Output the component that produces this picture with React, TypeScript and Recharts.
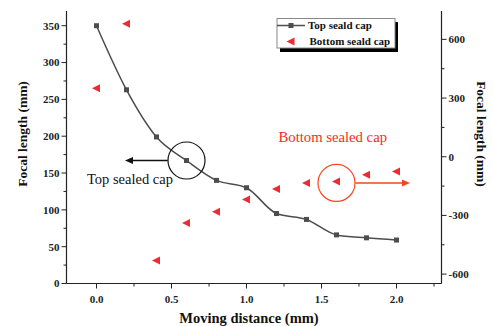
import React from "react";
import {
  ComposedChart,
  Line,
  Scatter,
  XAxis,
  YAxis,
  ReferenceDot,
  ReferenceLine,
  Customized
} from "recharts";

const distance = [0, 0.2, 0.4, 0.6, 0.8, 1.0, 1.2, 1.4, 1.6, 1.8, 2.0];
const topSealed = [350, 263, 199, 167, 140, 130, 95, 87, 66, 62, 59];
const bottomSealed = [350, 680, -531, -339, -281, -218, -165, -134, -126, -92, -75];

const xTicks = [0, 0.25, 0.5, 0.75, 1.0, 1.25, 1.5, 1.75, 2.0, 2.25];
const leftTicks = [0, 25, 50, 75, 100, 125, 150, 175, 200, 225, 250, 275, 300, 325, 350];
const rightTicks = [-600, -450, -300, -150, 0, 150, 300, 450, 600];

const data = distance.map((x, i) => ({ x, top: topSealed[i], bottom: bottomSealed[i] }));

const FONT = "'Liberation Serif', 'Times New Roman', serif";
const AXIS = "#222";

const tickText = {
  fontFamily: FONT,
  fontSize: 11,
  fontWeight: 700,
  fill: "#222"
};

function LeftTick({ x, y, payload }: any) {
  const major = payload.value % 50 === 0;
  return (
    <g>
      <line x1={x} x2={x - (major ? 5 : 3)} y1={y} y2={y} stroke={AXIS} strokeWidth={1} />
      {major && (
        <text x={x - 7} y={y} dy="0.35em" textAnchor="end" {...tickText}>
          {payload.value}
        </text>
      )}
    </g>
  );
}

function RightTick({ x, y, payload }: any) {
  const major = payload.value % 300 === 0;
  return (
    <g>
      <line x1={x} x2={x + (major ? 5 : 3)} y1={y} y2={y} stroke={AXIS} strokeWidth={1} />
      {major && (
        <text x={x + 7} y={y} dy="0.35em" textAnchor="start" {...tickText}>
          {payload.value}
        </text>
      )}
    </g>
  );
}

function BottomTick({ x, y, payload }: any) {
  const major = Math.abs((payload.value * 2) % 1) < 1e-6;
  return (
    <g>
      <line x1={x} x2={x} y1={y} y2={y + (major ? 5 : 3)} stroke={AXIS} strokeWidth={1} />
      {major && (
        <text x={x} y={y + 19} textAnchor="middle" {...tickText}>
          {payload.value.toFixed(1)}
        </text>
      )}
    </g>
  );
}

function SquareDot({ cx, cy, index }: any) {
  return <rect key={`sq${index}`} x={cx - 2.5} y={cy - 2.5} width={5} height={5} fill="#4d4d4d" />;
}

function LeftTriangle({ cx, cy }: any) {
  return (
    <polygon
      points={`${cx - 4.5},${cy} ${cx + 3.5},${cy - 4} ${cx + 3.5},${cy + 4}`}
      fill="#ee2a33"
    />
  );
}

function arrow(color: string) {
  return ({ x1, y1, x2, y2 }: any) => {
    const dir = x2 > x1 ? 1 : -1;
    return (
      <g>
        <line x1={x1} y1={y1} x2={x2 - dir * 6} y2={y2} stroke={color} strokeWidth={1.5} />
        <polygon
          points={`${x2},${y2} ${x2 - dir * 8},${y2 - 3.5} ${x2 - dir * 8},${y2 + 3.5}`}
          fill={color}
        />
      </g>
    );
  };
}

function Decorations() {
  const title = { fontFamily: FONT, fontSize: 13.5, fontWeight: 700, fill: "#111" };
  const legendText = { fontFamily: FONT, fontSize: 11, fontWeight: 700, fill: "#111" };
  return (
    <g>
      {/* legend */}
      <rect x={280} y={22} width={118} height={30} fill="#000" />
      <rect x={277} y={18.5} width={118} height={29.5} fill="#fff" stroke="#888" strokeWidth={1} />
      <line x1={277} x2={305} y1={25.5} y2={25.5} stroke="#4d4d4d" strokeWidth={1.5} />
      <rect x={288.5} y={23} width={5} height={5} fill="#4d4d4d" />
      <text x={308} y={25.5} dy="0.35em" {...legendText}>Top seald cap</text>
      <polygon points="286.5,41.5 294.5,37.5 294.5,45.5" fill="#ee2a33" />
      <text x={309.5} y={41.5} dy="0.35em" {...legendText}>Bottom seald cap</text>

      {/* annotations */}
      <text x={87} y={184} fontFamily={FONT} fontSize={14.5} fill="#111">Top sealed cap</text>
      <text x={278.5} y={142} fontFamily={FONT} fontSize={14.7} fill="#ff2626">Bottom sealed cap</text>

      {/* axis titles */}
      <text x={22} y={134} transform="rotate(-90 22 134)" textAnchor="middle" dy="0.35em" {...title}>
        Focal length (mm)
      </text>
      <text x={482} y={134} transform="rotate(90 482 134)" textAnchor="middle" dy="0.35em" {...title}>
        Focal length (mm)
      </text>
      <text x={249} y={318} textAnchor="middle" dy="0.35em" {...title} fontSize={14.5}>
        Moving distance (mm)
      </text>
    </g>
  );
}

export default function App() {
  return (
    <div style={{ position: "absolute", left: 0, top: 0, background: "#fff" }}>
      <ComposedChart
        width={493}
        height={326}
        data={data}
        margin={{ top: 11, right: 0, bottom: 0, left: 0 }}
      >
        <XAxis
          type="number"
          dataKey="x"
          domain={[-0.2, 2.3]}
          ticks={xTicks}
          interval={0}
          height={42.5}
          tickSize={0}
          tickMargin={0}
          tick={<BottomTick />}
          axisLine={{ stroke: AXIS, strokeWidth: 1.2 }}
          tickLine={false}
          allowDataOverflow
        />
        <YAxis
          yAxisId="left"
          orientation="left"
          type="number"
          domain={[0, 370]}
          ticks={leftTicks}
          interval={0}
          width={66.5}
          tickSize={0}
          tickMargin={0}
          tick={<LeftTick />}
          axisLine={{ stroke: AXIS, strokeWidth: 1.2 }}
          tickLine={false}
          allowDataOverflow
        />
        <YAxis
          yAxisId="right"
          orientation="right"
          type="number"
          domain={[-648, 745]}
          ticks={rightTicks}
          interval={0}
          width={51.5}
          tickSize={0}
          tickMargin={0}
          tick={<RightTick />}
          axisLine={{ stroke: AXIS, strokeWidth: 1.2 }}
          tickLine={false}
          allowDataOverflow
        />
        <Line
          yAxisId="left"
          type="monotone"
          dataKey="top"
          stroke="#4d4d4d"
          strokeWidth={1.5}
          dot={<SquareDot />}
          activeDot={false}
          isAnimationActive={false}
        />
        <Scatter
          yAxisId="right"
          dataKey="bottom"
          shape={<LeftTriangle />}
          isAnimationActive={false}
        />
        <ReferenceDot
          yAxisId="left"
          x={0.6}
          y={167}
          r={18.5}
          fill="none"
          stroke="#111"
          strokeWidth={1.2}
          ifOverflow="visible"
        />
        <ReferenceLine
          yAxisId="left"
          segment={[{ x: 0.475, y: 167 }, { x: 0.19, y: 167 }]}
          shape={arrow("#111")}
          ifOverflow="visible"
        />
        <ReferenceDot
          yAxisId="right"
          x={1.6}
          y={-134}
          r={18.5}
          fill="none"
          stroke="#f5451f"
          strokeWidth={1.2}
          ifOverflow="visible"
        />
        <ReferenceLine
          yAxisId="right"
          segment={[{ x: 1.725, y: -134 }, { x: 2.09, y: -134 }]}
          shape={arrow("#f5451f")}
          ifOverflow="visible"
        />
        <Customized component={<Decorations />} />
      </ComposedChart>
    </div>
  );
}
